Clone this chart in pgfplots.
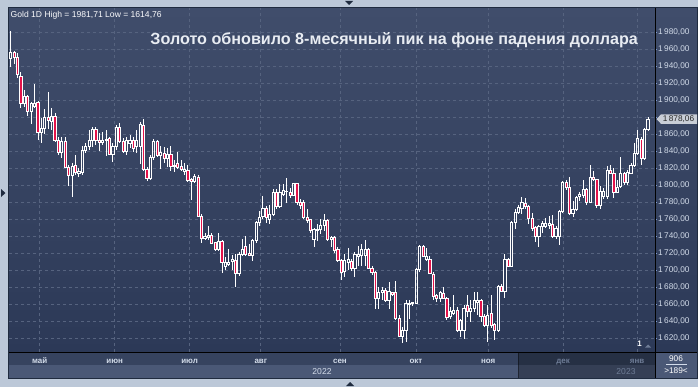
\documentclass[border=0pt]{standalone}
\usepackage{fontspec}
\setmainfont{Liberation Sans}
\usepackage{pgfplots}
\usepackage{pgfplotstable}
\pgfplotsset{compat=1.18}

\definecolor{panelTop}{HTML}{404D6B}
\definecolor{panelBot}{HTML}{2C3957}
\definecolor{frame}{HTML}{BCC8D8}
\definecolor{gridc}{HTML}{56637F}
\definecolor{bear}{HTML}{E3134A}
\definecolor{labelc}{HTML}{D3DCEA}
\definecolor{titlec}{HTML}{E8ECF2}
\definecolor{dimc}{HTML}{6E7C96}
\definecolor{monthrow}{HTML}{36435F}
\definecolor{yearrow}{HTML}{4A5876}
\definecolor{tickc}{HTML}{7F9BD0}
\definecolor{arrowc}{HTML}{1F2B3F}
\definecolor{tagc}{HTML}{C9CED7}

% daily candles: index, open, high, low, close
\pgfplotstableread{
i o h l c
0 1949.4 1981.7 1938.8 1956.5
1 1956.5 1958.0 1943.5 1950.6
2 1950.6 1955.3 1925.9 1930.6
3 1928.6 1933.0 1890.6 1896.5
4 1896.5 1912.2 1892.6 1905.1
5 1905.1 1906.3 1881.6 1886.9
6 1886.9 1898.5 1872.8 1896.5
7 1893.4 1919.6 1890.6 1896.5
8 1897.7 1899.2 1853.4 1862.4
9 1862.4 1878.9 1849.5 1867.1
10 1867.1 1889.4 1860.4 1880.0
11 1880.0 1910.2 1866.3 1876.9
12 1875.7 1890.6 1865.1 1881.6
13 1881.6 1885.5 1851.4 1853.4
14 1853.4 1857.3 1835.7 1838.7
15 1838.7 1857.3 1831.8 1852.2
16 1852.2 1857.3 1820.0 1821.2
17 1821.2 1824.0 1799.3 1811.4
18 1812.2 1826.7 1786.9 1822.8
19 1824.0 1835.7 1812.0 1815.6
20 1814.0 1820.0 1810.0 1816.0
21 1815.6 1846.3 1812.2 1841.6
22 1841.6 1849.4 1837.7 1846.3
23 1846.3 1865.1 1841.6 1853.4
24 1853.4 1869.0 1845.5 1866.0
25 1866.0 1868.3 1847.5 1853.4
26 1853.4 1861.2 1840.8 1850.2
27 1851.2 1863.2 1847.5 1853.4
28 1852.6 1865.0 1834.5 1854.2
29 1855.3 1857.3 1835.7 1836.9
30 1836.9 1849.4 1827.9 1845.5
31 1845.5 1871.0 1841.6 1868.3
32 1868.3 1873.0 1849.5 1851.4
33 1851.4 1855.3 1837.7 1839.7
34 1839.7 1857.3 1835.7 1853.4
35 1849.4 1859.3 1843.6 1852.6
36 1853.4 1857.3 1839.7 1843.6
37 1846.3 1865.0 1837.7 1853.4
38 1846.3 1874.9 1825.1 1872.2
39 1871.0 1878.1 1817.3 1818.9
40 1818.9 1821.2 1805.6 1808.3
41 1808.3 1835.7 1806.3 1833.0
42 1833.0 1854.2 1829.8 1852.2
43 1852.2 1853.4 1833.8 1835.7
44 1835.7 1846.3 1818.9 1838.5
45 1837.7 1845.5 1826.7 1831.8
46 1831.8 1843.6 1822.0 1836.9
47 1836.9 1846.3 1817.3 1822.8
48 1822.8 1830.0 1816.0 1824.0
49 1826.0 1839.7 1820.0 1820.8
50 1822.8 1830.0 1817.3 1818.9
51 1816.0 1826.0 1812.0 1818.9
52 1817.3 1824.0 1804.4 1806.3
53 1807.5 1808.3 1782.8 1804.4
54 1804.4 1814.0 1802.4 1811.0
55 1810.0 1812.0 1763.2 1764.0
56 1764.0 1766.4 1731.9 1737.7
57 1737.7 1743.6 1735.8 1739.7
58 1738.9 1752.2 1735.8 1741.3
59 1741.3 1743.6 1731.0 1731.9
60 1732.6 1733.8 1723.2 1724.8
61 1724.8 1744.4 1723.2 1734.6
62 1734.6 1735.8 1696.6 1709.1
63 1704.4 1716.2 1700.5 1709.1
64 1707.6 1725.0 1705.6 1709.5
65 1710.3 1718.0 1701.0 1712.6
66 1712.2 1719.3 1681.0 1696.6
67 1696.6 1721.2 1694.0 1719.3
68 1719.3 1736.8 1717.3 1725.1
69 1728.2 1740.7 1717.3 1719.3
70 1720.4 1731.0 1716.5 1718.0
71 1717.3 1736.8 1711.5 1734.9
72 1734.9 1758.3 1732.9 1757.1
73 1757.1 1770.0 1752.4 1762.2
74 1764.1 1787.5 1760.2 1772.7
75 1772.7 1775.8 1756.3 1762.2
76 1760.2 1776.6 1754.4 1766.1
77 1766.1 1795.3 1764.1 1791.4
78 1791.4 1795.3 1772.7 1775.0
79 1775.0 1801.2 1773.9 1791.4
80 1789.5 1801.2 1787.5 1794.5
81 1792.6 1809.0 1779.7 1793.4
82 1792.2 1797.3 1785.6 1788.7
83 1788.7 1803.1 1787.5 1801.9
84 1801.9 1803.1 1776.6 1779.7
85 1779.7 1783.6 1771.9 1776.6
86 1779.7 1782.8 1760.2 1762.2
87 1762.2 1772.7 1756.3 1758.3
88 1760.2 1761.0 1744.6 1746.6
89 1736.0 1750.5 1728.2 1748.5
90 1746.6 1754.4 1734.9 1748.5
91 1747.7 1760.2 1742.7 1752.4
92 1752.4 1766.1 1746.6 1758.3
93 1759.4 1761.0 1734.9 1736.8
94 1736.8 1740.7 1727.1 1738.8
95 1738.8 1740.7 1720.4 1723.2
96 1725.1 1727.1 1709.5 1711.5
97 1711.5 1713.4 1689.2 1697.8
98 1699.0 1719.3 1692.0 1711.5
99 1710.0 1727.0 1701.0 1712.6
100 1710.3 1713.4 1699.8 1702.5
101 1702.5 1721.2 1692.0 1719.3
102 1716.5 1729.0 1705.6 1719.3
103 1718.0 1731.0 1705.6 1725.0
104 1717.7 1735.3 1705.6 1724.8
105 1724.8 1725.9 1701.7 1702.5
106 1702.5 1705.6 1694.7 1697.8
107 1697.8 1699.8 1654.9 1666.6
108 1666.6 1680.3 1654.9 1674.4
109 1673.6 1680.3 1664.7 1676.4
110 1676.4 1679.1 1662.7 1664.7
111 1664.7 1686.1 1654.9 1675.2
112 1674.4 1675.2 1670.5 1672.1
113 1673.6 1688.0 1641.3 1644.0
114 1644.0 1647.1 1621.8 1622.9
115 1622.9 1633.5 1614.8 1629.6
116 1629.6 1664.7 1615.9 1660.8
117 1660.4 1664.7 1643.2 1661.8
118 1661.2 1663.5 1658.8 1662.7
119 1661.6 1702.5 1660.8 1701.7
120 1701.7 1729.8 1698.6 1728.2
121 1728.2 1729.8 1715.4 1716.5
122 1713.4 1726.7 1711.5 1716.5
123 1713.4 1716.5 1695.9 1697.0
124 1695.9 1697.8 1664.7 1669.8
125 1670.5 1672.5 1662.7 1667.4
126 1667.4 1676.4 1662.7 1673.6
127 1673.4 1680.4 1666.8 1667.6
128 1667.6 1668.8 1641.5 1644.3
129 1645.4 1657.1 1643.5 1651.3
130 1649.3 1670.7 1647.4 1653.2
131 1653.2 1657.1 1627.9 1629.9
132 1629.1 1643.5 1622.1 1641.5
133 1629.1 1659.0 1619.4 1655.9
134 1658.3 1670.7 1645.4 1651.3
135 1651.3 1665.7 1639.6 1655.2
136 1655.2 1674.6 1651.3 1664.9
137 1662.9 1674.6 1647.4 1664.9
138 1664.9 1666.8 1639.6 1645.4
139 1645.4 1649.3 1633.8 1634.9
140 1635.7 1659.0 1616.3 1647.4
141 1649.3 1670.7 1631.8 1635.7
142 1636.5 1638.8 1618.2 1629.9
143 1629.9 1682.4 1627.9 1681.6
144 1681.6 1684.3 1674.6 1675.8
145 1675.8 1719.3 1667.6 1713.5
146 1713.5 1714.3 1703.8 1705.0
147 1705.0 1758.2 1703.8 1756.3
148 1756.3 1771.9 1748.5 1768.0
149 1768.0 1776.5 1766.0 1773.8
150 1772.6 1786.6 1766.0 1779.6
151 1778.9 1785.5 1771.9 1775.0
152 1775.0 1776.5 1754.4 1761.0
153 1761.0 1768.0 1746.6 1749.3
154 1750.5 1752.4 1733.0 1740.0
155 1740.0 1754.0 1727.1 1751.6
156 1751.6 1757.9 1744.6 1755.5
157 1751.6 1762.0 1750.5 1755.5
158 1753.2 1764.0 1749.0 1755.5
159 1754.4 1764.9 1738.8 1740.0
160 1740.0 1752.4 1737.0 1749.7
161 1740.0 1771.0 1730.2 1770.0
162 1770.0 1805.0 1768.0 1803.8
163 1803.8 1806.9 1795.0 1797.1
164 1797.1 1810.0 1765.2 1766.8
165 1766.8 1781.6 1763.0 1771.9
166 1771.9 1787.4 1770.0 1785.5
167 1786.6 1792.1 1781.6 1789.4
168 1788.2 1806.9 1785.5 1795.2
169 1795.2 1797.1 1776.9 1780.4
170 1780.4 1824.4 1778.9 1810.0
171 1810.0 1816.6 1804.9 1806.9
172 1806.9 1807.6 1773.8 1776.5
173 1776.5 1799.1 1772.0 1793.3
174 1786.6 1797.1 1784.3 1793.3
175 1786.6 1823.2 1784.0 1817.8
176 1817.4 1824.4 1813.0 1814.6
177 1814.6 1820.5 1785.5 1792.1
178 1792.1 1806.9 1791.3 1797.1
179 1798.3 1833.3 1797.1 1813.9
180 1813.9 1815.4 1800.0 1803.8
181 1803.8 1818.6 1801.0 1815.4
182 1814.6 1826.3 1813.0 1823.2
183 1823.2 1849.7 1822.4 1838.0
184 1838.0 1865.2 1836.0 1855.5
185 1854.3 1857.4 1824.4 1832.2
186 1832.2 1867.2 1830.2 1866.0
187 1866.0 1880.0 1864.5 1878.06
}\candles

\pgfplotsset{
  chartgeom/.style={
    at={(9bp,35bp)}, anchor=south west,
    scale only axis, width=646bp, height=344bp,
    xmin=-0.5, xmax=189.06, ymin=1604.1, ymax=2008.8,
  },
}

\begin{document}
\begin{tikzpicture}[x=1bp,y=1bp]
% window frame and panels
\fill[frame] (0,0) rectangle (698,387);
\shade[top color=panelTop, bottom color=panelBot] (9,35) rectangle (697,379);
\fill[monthrow] (9,22) rectangle (655,35);
\fill[yearrow] (9,9) rectangle (655,22);
\fill[black, opacity=0.28] (518,9) rectangle (655,35);
\draw[black, opacity=0.4, line width=0.8] (518.5,9) -- (518.5,35);
\fill[yearrow] (655,9) rectangle (697,35);

% price scale, grid and wicks
\begin{axis}[chartgeom,
  axis line style={draw=none},
  xtick={8.5,30.5,52.5,73.4,96.6,118.9,140.1,162.1,183.8},
  xticklabels={май,июн,июл,авг,сен,окт,ноя,\textcolor{dimc}{дек},\textcolor{dimc}{янв}},
  xtick style={draw=none},
  xticklabel style={anchor=base, yshift=-9.5bp, text=labelc,
    font=\fontsize{8}{9}\selectfont\bfseries},
  ytick={1620,1640,...,1980},
  yticklabels={{1\,620,00},{1\,640,00},{1\,660,00},{1\,680,00},{1\,700,00},
    {1\,720,00},{1\,740,00},{1\,760,00},{1\,780,00},{1\,800,00},{1\,820,00},
    {1\,840,00},{1\,860,00},{},{1\,900,00},{1\,920,00},{1\,940,00},
    {1\,960,00},{1\,980,00}},
  ytick pos=right, yticklabel pos=right,
  tick align=outside, major tick length=2bp,
  ytick style={draw=tickc, line width=0.8bp},
  yticklabel style={anchor=west, text=labelc, inner sep=0pt, xshift=1bp,
    font=\fontsize{8.3}{10}\selectfont},
  xmajorgrids, ymajorgrids,
  grid style={gridc, dash pattern=on 3bp off 3bp, line width=0.8bp},
]
  % lower shadows
  \addplot[draw=none, mark=none,
    error bars/.cd, y dir=minus, y explicit, error mark=none,
    error bar style={draw=white, line width=0.9bp, solid}]
    table[x=i, y expr={min(\thisrow{o},\thisrow{c})},
          y error expr={min(\thisrow{o},\thisrow{c})-\thisrow{l}}] {\candles};
  % upper shadows
  \addplot[draw=none, mark=none,
    error bars/.cd, y dir=plus, y explicit, error mark=none,
    error bar style={draw=white, line width=0.9bp, solid}]
    table[x=i, y expr={max(\thisrow{o},\thisrow{c})},
          y error expr={\thisrow{h}-max(\thisrow{o},\thisrow{c})}] {\candles};
\end{axis}

% candle bodies: hidden base, rising bodies, falling bodies
\begin{axis}[chartgeom, hide axis, ybar stacked, bar width=0.64]
  \addplot[draw=none, fill=none]
    table[x=i, y expr={min(\thisrow{o},\thisrow{c})}] {\candles};
  \addplot[draw=white, fill=none, line width=0.9bp]
    table[x=i, y expr={max(\thisrow{c}-\thisrow{o},0)}] {\candles};
  \addplot[draw=white, fill=bear, line width=0.9bp]
    table[x=i, y expr={max(\thisrow{o}-\thisrow{c},0)}] {\candles};
\end{axis}

% separators and outline
\draw[black, line width=1] (9,35) -- (697,35);
\draw[black, line width=1] (655.5,9) -- (655.5,379);
\draw[arrowc, line width=1] (8.5,8.5) rectangle (697.5,379.5);

% texts
\node[anchor=west, text=white!90!labelc, font=\fontsize{8.6}{10}\selectfont, inner sep=0]
  at (10.5,372) {Gold 1D High = 1981,71 Low = 1614,76};
\node[anchor=base, text=titlec, font=\fontsize{16.2}{18}\selectfont\bfseries, inner sep=0]
  at (394.2,343) {Золото обновило 8-месячный пик на фоне падения доллара};
\node[text=labelc, font=\fontsize{8.6}{10}\selectfont, inner sep=0] at (322,15.5) {2022};
\node[text=dimc, font=\fontsize{8.6}{10}\selectfont, inner sep=0] at (626,15.5) {2023};
\node[text=white, font=\fontsize{8.3}{10}\selectfont, inner sep=0] at (676,28) {906};
\draw[labelc, line width=0.6] (666,23) -- (687,23);
\node[text=white, font=\fontsize{8.3}{10}\selectfont, inner sep=0] at (676,16) {>189<};
\node[text=white, font=\fontsize{8}{9}\selectfont\bfseries, inner sep=0] at (639.5,43) {1};
\fill[dimc] (645,39.5) -- (651,39.5) -- (648,42.5) -- cycle;

% last price tag
\fill[tagc] (656.5,267.9) -- (661,272.6) -- (697,272.6) -- (697,263.2) -- (661,263.2) -- cycle;
\node[text=black!85, font=\fontsize{8.3}{10}\selectfont, inner sep=0] at (678.5,267.9) {1\,878,06};

% scroll arrows on the frame
\fill[arrowc] (345,386) -- (353,386) -- (349,382) -- cycle;
\fill[arrowc] (1,198) -- (1,190) -- (5.5,194) -- cycle;
\fill[arrowc] (346,1) -- (354,1) -- (350,5) -- cycle;

\pgfresetboundingbox
\path[use as bounding box] (0,0) rectangle (698,387);
\end{tikzpicture}
\end{document}
